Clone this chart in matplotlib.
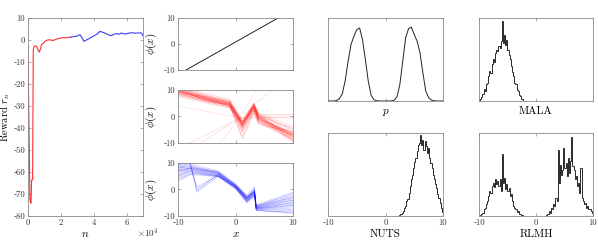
import numpy as np
import matplotlib
matplotlib.use("Agg")
from matplotlib import pyplot as plt
from matplotlib.ticker import FuncFormatter

plt.rcParams['font.family'] = ['cmr10', 'DejaVu Serif']
plt.rcParams['mathtext.fontset'] = 'cm'
plt.rcParams['axes.unicode_minus'] = False

# reward trace (red = phase 1, blue = phase 2)
n_red = [0, 600, 1200, 1800, 2200, 2800, 3200, 3800, 4500, 5300, 6000, 6900, 7600,
         8300, 9300, 10300, 11300, 12300, 13500, 15400, 17000, 18400, 20000, 21400,
         23000, 24500, 26000]
r_red = [-5, -40, -72.7, -74.2, -63.6, -63.6, -4.4, -2.9, -2.6, -2.9, -4.5, -5.5, -4.0,
         -2.0, -1.5, -0.6, -0.2, 0.1, 0.0, -0.2, 0.3, 0.6, 0.9, 1.1, 1.0, 1.2, 1.3]
n_blue = [26000, 27500, 29500, 31600, 32800, 34000, 35300, 36600, 38500, 40700, 42200,
          43700, 45700, 47500, 49000, 50800, 52300, 53800, 55300, 56900, 58800, 60800,
          62900, 65000, 67000, 69000, 70000]
r_blue = [1.3, 1.5, 1.7, 2.4, 1.2, -0.6, -0.1, 0.4, 1.2, 2.1, 2.8, 3.9, 3.5, 2.9, 2.3,
          2.0, 2.6, 2.9, 2.6, 3.2, 2.7, 3.0, 3.3, 3.1, 3.2, 3.2, 2.0]

# phi(x) curves
phi0_x = [-10, 10]
phi0_y = [-11.75, 13.25]

red_knots = [-10, -5, -1, 1.2, 3.2, 4, 10]
red_lines = [
    [9.5, 6.5, 4.5, -3.0, 3.5, -0.5, -6.5],
    [10.5, 7.0, 5.0, -2.0, 4.0, 0.0, -7.0],
    [8.5, 6.0, 4.0, -4.0, 3.0, -1.0, -6.0],
    [9.0, 7.5, 5.5, -1.5, 4.5, 0.5, -8.0],
    [10.0, 6.8, 4.8, -5.0, 2.5, -1.5, -7.5],
    [11.0, 8.0, 6.0, -2.5, 5.0, 1.0, -5.0],
    [8.0, 5.5, 3.5, -6.0, 2.0, -2.0, -8.5],
    [9.8, 6.2, 4.2, -3.5, 3.8, -0.8, -9.0],
    [10.2, 7.2, 5.2, -1.0, 4.8, 0.2, -4.5],
    [9.2, 6.6, 3.8, -7.5, 1.5, -2.5, -6.8],
    [8.8, 5.8, 4.6, -2.8, 3.2, -1.2, -7.2],
    [10.8, 7.8, 5.8, -3.2, 4.2, 0.8, -5.5],
    [9.4, 6.4, 4.4, -4.5, 2.8, -0.2, -9.5],
    [7.5, 5.0, 3.2, -2.2, 3.6, -1.8, -6.2],
    [9.6, 6.9, 4.9, -3.8, 3.4, -0.6, -7.8],
    [10.4, 7.4, 5.4, -2.6, 4.4, 0.4, -6.6],
    [8.6, 6.1, 4.1, -5.5, 2.2, -1.4, -8.2],
    [9.9, 6.7, 4.7, -3.3, 3.9, -0.9, -7.1],
    [11.5, 8.5, 6.5, -1.8, 5.2, 1.5, -4.0],
    [8.2, 5.6, 3.6, -4.2, 2.6, -2.2, -9.2],
    [9.7, 6.3, 4.3, -2.9, 3.7, -0.4, -6.9],
    [10.1, 7.1, 5.1, -3.6, 4.1, -0.1, -7.6],
    [9.3, 6.5, 4.5, -8.5, 1.0, -3.0, -5.8],
    [10.6, 7.6, 5.6, -2.4, 4.6, 0.6, -8.8],
    [9.0, 6.0, 4.0, -2.0, 3.0, -0.5, -0.5],
    [10.0, 7.0, 5.0, -3.0, 4.0, 0.5, 0.8],
]
red_fan_x = [[-10, 0.8], [-8, 0.8], [-6, 0.8], [-2.7, 0.8], [0.8, 3.6], [0.8, 10], [3.5, 6.5]]
red_fan_y = [[4.0, -0.5], [-10, -0.5], [-10, -0.5], [-10, -0.5], [-0.5, 10], [-0.5, 0.0], [5, 10]]

blue_knots = [-10, -8, -6.7, -3, 0, 2, 3.3, 3.6, 10]
blue_lines = [
    [6.0, 7.5, 7.0, 5.5, 1.0, -3.5, -1.0, -7.0, -5.0],
    [8.0, 8.5, 8.0, 6.0, 1.5, -3.0, -0.5, -6.5, -3.0],
    [4.0, 6.0, 6.0, 5.0, 0.5, -4.0, -2.0, -7.5, -7.0],
    [9.0, 9.5, 8.5, 6.5, 2.0, -2.5, 0.5, -6.0, -2.0],
    [5.0, 7.0, 6.5, 5.2, 0.8, -4.5, -1.5, -8.0, -8.5],
    [7.0, 8.0, 7.5, 6.2, 1.2, -3.2, -0.8, -6.8, -4.0],
    [3.0, 5.5, 5.5, 4.8, 0.2, -5.0, -2.5, -7.8, -9.0],
    [8.5, 9.0, 8.2, 6.8, 1.8, -2.8, 0.0, -6.2, -1.5],
    [6.5, 7.8, 7.2, 5.8, 1.1, -3.8, -1.2, -7.2, -6.0],
    [7.5, 8.2, 7.8, 6.4, 1.4, -3.4, -0.6, -6.6, -3.5],
    [5.5, 7.2, 6.8, 5.4, 0.9, -4.2, -1.8, -7.4, -7.5],
    [9.5, 10.0, 9.0, 7.0, 2.2, -2.2, 1.0, -5.8, -1.0],
    [4.5, 6.5, 6.2, 5.1, 0.6, -4.8, -2.2, -7.6, -8.0],
    [6.8, 7.9, 7.4, 6.0, 1.3, -3.6, -1.0, -7.0, -5.5],
    [8.2, 8.8, 8.0, 6.6, 1.6, -3.1, -0.3, -6.4, -2.5],
    [5.2, 6.8, 6.4, 5.3, 0.7, -4.4, -1.6, -7.3, -6.5],
    [7.2, 8.1, 7.6, 6.1, 1.2, -3.3, -0.9, -6.9, -4.5],
    [3.5, 5.8, 5.8, 4.9, 0.3, -4.7, -2.4, -7.9, -8.7],
    [8.0, 10.5, -1.0, 5.0, 1.0, -3.5, -1.0, -7.0, -5.0],
    [9.0, 11.0, 0.0, 5.5, 1.4, -3.0, -0.5, -6.5, -4.0],
    [7.0, 10.2, 1.0, 5.2, 0.9, -4.0, -1.5, -7.2, -6.0],
    [9.5, 11.5, -0.5, 6.0, 1.6, -2.8, -0.2, -6.2, -3.0],
]

# target density p
p_x = [-10, -9.5, -9, -8.5, -8, -7.5, -7, -6.5, -6, -5.5, -5, -4.5, -4, -3.5, -3, -2.5,
       -2, -1.5, -1, -0.5, 0, 0.5, 1, 1.5, 2, 2.5, 3, 3.5, 4, 4.5, 5, 5.5, 6, 6.5, 7,
       7.5, 8, 8.5, 9, 9.5, 10]
p_y = [0, 0, 0, 0.005, 0.03, 0.09, 0.25, 0.48, 0.68, 0.78, 0.86, 0.88, 0.74, 0.5, 0.24,
       0.07, 0.015, 0.002, 0, 0, 0, 0, 0.001, 0.01, 0.05, 0.2, 0.48, 0.76, 0.87, 0.89,
       0.8, 0.72, 0.58, 0.34, 0.12, 0.04, 0.01, 0.002, 0, 0, 0]

# sampler histograms (bin width 0.2)
mala_edges = np.arange(-10, -1.99, 0.2)
mala_counts = [0, 2, 5, 8, 14, 12, 20, 22, 30, 36, 34, 45, 50, 47, 58, 62, 60, 66, 64, 72,
               96, 70, 80, 68, 74, 62, 55, 50, 42, 35, 30, 22, 20, 13, 12, 7, 6, 3, 2, 0]
nuts_edges = np.arange(2, 10.01, 0.2)
nuts_counts = [0, 0, 1, 2, 4, 6, 10, 12, 18, 20, 28, 36, 45, 50, 58, 65, 70, 78, 85, 88,
               97, 86, 92, 80, 90, 84, 76, 82, 70, 64, 58, 50, 45, 38, 34, 26, 22, 16, 10, 5]
rlmh_edges = np.arange(-10, 10.01, 0.2)
rlmh_counts = [0, 1, 2, 4, 8, 10, 14, 18, 24, 30, 28, 36, 40, 35, 44, 38, 42, 36, 45, 30,
               75, 40, 46, 32, 38, 30, 34, 24, 26, 18, 12, 10, 8, 5, 6, 3, 2, 1, 1, 0,
               0, 0, 0, 0, 0, 0, 0, 0, 0, 0, 0, 0, 0, 0, 0, 0, 0, 0, 0,
               1, 2, 6, 4, 10, 8, 14, 12, 22, 18, 80, 40, 62, 50, 56, 82, 58, 64, 48, 70,
               52, 66, 95, 60, 55, 44, 48, 36, 40, 28, 58, 22, 18, 14, 16, 10, 12, 8, 9, 6, 4]

W, H = 598, 243
fig = plt.figure(figsize=(W / 100, H / 100), dpi=100)


def tick_text(v, pos):
    v = int(round(v))
    return ('\u2010%d' % -v) if v < 0 else '%d' % v


plain = FuncFormatter(tick_text)


def box(l, t, r, b):
    return fig.add_axes([l / W, 1 - b / H, (r - l) / W, (b - t) / H])


def style(ax):
    for s in ax.spines.values():
        s.set_color('#8a8a8a')
        s.set_linewidth(0.6)
    ax.tick_params(direction='in', top=True, right=True, length=2.5, width=0.5,
                   color='#8a8a8a', labelsize=6.3, labelcolor='#333333', pad=2)
    ax.xaxis.set_major_formatter(plain)
    ax.yaxis.set_major_formatter(plain)


# reward
ax = box(28, 18, 143, 216)
style(ax)
ax.plot(n_red, r_red, color='#ff3030', lw=0.8)
ax.plot(n_blue, r_blue, color='#3a3aff', lw=0.8)
ax.set_xlim(0, 70000)
ax.set_ylim(-80, 10)
ax.set_yticks(np.arange(-80, 11, 10))
ax.set_xticks([0, 20000, 40000, 60000])
ax.xaxis.set_major_formatter(FuncFormatter(lambda v, pos: '%d' % round(v / 1e4)))
ax.text(1.04, -0.086, r'$\times 10^4$', transform=ax.transAxes, ha='center',
        va='center', fontsize=6.5, color='#333333')
ax.set_xlabel('$n$', fontsize=8, labelpad=2)
ax.set_ylabel('Reward $r_n$', fontsize=7.5)
ax.yaxis.set_label_coords(-0.135, 0.5)

# phi panels
rows = [(18, 70), (90, 143), (163, 216)]
for i, (t, b) in enumerate(rows):
    ax = box(178, t, 293, b)
    style(ax)
    if i == 0:
        ax.plot(phi0_x, phi0_y, color='#222222', lw=0.7)
    elif i == 1:
        for y in red_lines:
            ax.plot(red_knots, y, color='red', lw=0.5, alpha=0.22)
        for x, y in zip(red_fan_x, red_fan_y):
            ax.plot(x, y, color='red', lw=0.5, alpha=0.15)
    else:
        for y in blue_lines:
            ax.plot(blue_knots, y, color='blue', lw=0.5, alpha=0.22)
    ax.set_xlim(-10, 10)
    ax.set_ylim(-10, 10)
    ax.set_xticks([-10, 0, 10])
    ax.set_yticks([-10, 0, 10])
    ax.set_ylabel(r'$\phi(x)$', fontsize=8, labelpad=3)
    if i < 2:
        ax.set_xticklabels([])
    else:
        ax.set_xlabel('$x$', fontsize=8, labelpad=2)

# density and histograms
hists = [
    (box(328, 18, 443, 101), None, None, '$p$', False),
    (box(479, 18, 593, 101), mala_edges, mala_counts, 'MALA', False),
    (box(328, 133, 443, 216), nuts_edges, nuts_counts, 'NUTS', True),
    (box(479, 133, 593, 216), rlmh_edges, rlmh_counts, 'RLMH', True),
]
for ax, edges, counts, name, bottom in hists:
    style(ax)
    if edges is None:
        ax.plot(p_x, p_y, color='#222222', lw=0.7)
        ax.set_ylim(0, 1)
    else:
        ax.stairs(counts, edges, color='#2a2a2a', lw=0.7)
        ax.set_ylim(0, 100)
    ax.set_xlim(-10, 10)
    ax.set_xticks([-10, 0, 10])
    ax.set_yticks([])
    if not bottom:
        ax.set_xticklabels([])
    ax.set_xlabel(name, fontsize=8, labelpad=2)

fig.savefig('out.png', dpi=100)
